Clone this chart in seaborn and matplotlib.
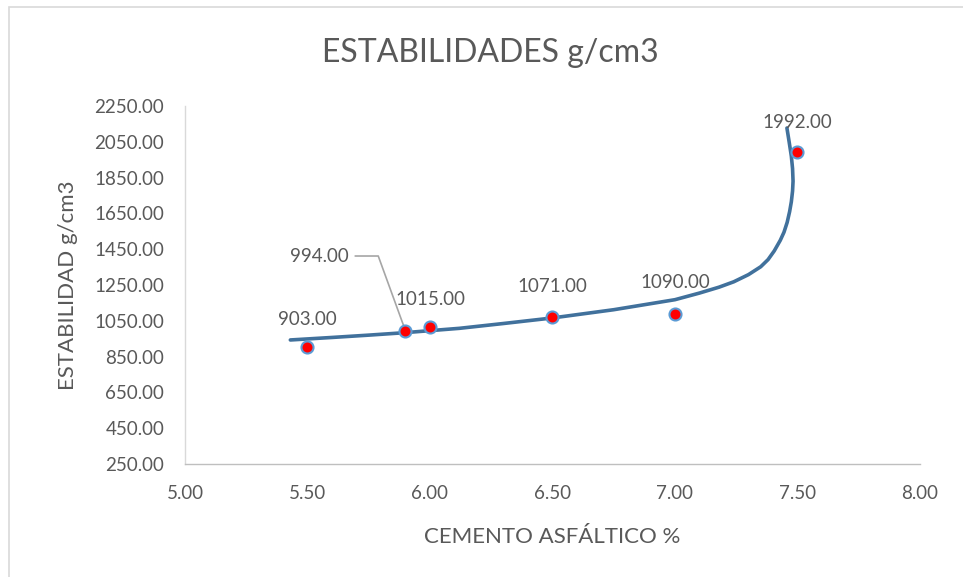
import numpy as np
import pandas as pd
import matplotlib
matplotlib.use("Agg")
import matplotlib.pyplot as plt
import seaborn as sns
from matplotlib.patches import Rectangle

# Measured points
cemento = [5.50, 5.90, 6.00, 6.50, 7.00, 7.50]
estabilidad = [903.00, 994.00, 1015.00, 1071.00, 1090.00, 1992.00]

# Trend curve
curva_x = [5.43, 5.60, 5.75, 5.89, 6.00, 6.12, 6.30, 6.50, 6.75, 7.00, 7.10,
           7.18, 7.24, 7.30, 7.35, 7.38, 7.405, 7.43, 7.445, 7.458, 7.468, 7.475,
           7.48, 7.482, 7.48, 7.475, 7.466, 7.457]
curva_y = [943, 957, 970, 983, 995, 1008, 1035, 1066, 1112, 1168, 1205,
           1238, 1268, 1308, 1352, 1392, 1440, 1500, 1545, 1600, 1660, 1715,
           1775, 1830, 1900, 1970, 2050, 2127]

sns.set_theme(style="white")
plt.rcParams['font.family'] = ['Lato', 'DejaVu Sans']
gris = '#595959'

fig = plt.figure(figsize=(9.63, 5.77), dpi=100)
ax = fig.add_axes([0.1921, 0.1958, 0.7632, 0.6205])

# chart area border
fig.patches.append(Rectangle((0.009, -0.1), 1.2, 1.1 - 7 / 577, transform=fig.transFigure,
                             fill=False, edgecolor='#D9D9D9', linewidth=1.2))

curva = pd.DataFrame({'x': curva_x, 'y': curva_y})
sns.lineplot(data=curva, x='x', y='y', sort=False, estimator=None, ax=ax,
             color='#41719C', linewidth=2.6)

puntos = pd.DataFrame({'x': cemento, 'y': estabilidad})
sns.scatterplot(data=puntos, x='x', y='y', ax=ax, color='#FF0000', s=75,
                edgecolor='#5B9BD5', linewidth=1.5, zorder=5)

# data labels
offsets = {0: (0, 14), 2: (0, 14), 3: (0, 16), 4: (0, 16), 5: (0, 15)}
for i, (xv, yv) in enumerate(zip(cemento, estabilidad)):
    if i == 1:
        continue
    dx, dy = offsets[i]
    ax.annotate(f"{yv:.2f}", (xv, yv), xytext=(dx, dy), textcoords='offset points',
                ha='center', va='bottom', fontsize=13.5, color=gris)

ax.annotate(f"{estabilidad[1]:.2f}", (cemento[1], estabilidad[1]),
            xytext=(5.67, 1412), textcoords='data', ha='right', va='center',
            fontsize=13.5, color=gris,
            arrowprops=dict(arrowstyle='-', color='#A6A6A6', lw=1.2,
                            connectionstyle='angle,angleA=0,angleB=-70,rad=0',
                            shrinkA=2, shrinkB=3))

ax.set_xlim(5.0, 8.0)
ax.set_ylim(250, 2250)
ax.set_xticks(np.arange(5.0, 8.01, 0.5))
ax.set_yticks(np.arange(250, 2251, 200))
ax.set_xticklabels([f"{v:.2f}" for v in np.arange(5.0, 8.01, 0.5)])
ax.set_yticklabels([f"{v:.2f}" for v in np.arange(250, 2251, 200)])
ax.tick_params(axis='both', labelsize=13.5, labelcolor=gris, length=0)
ax.tick_params(axis='y', pad=15)
ax.tick_params(axis='x', pad=15)

for s in ['top', 'right']:
    ax.spines[s].set_visible(False)
ax.spines['left'].set_color('#D9D9D9')
ax.spines['bottom'].set_color('#BFBFBF')
ax.spines['left'].set_linewidth(1.0)
ax.spines['bottom'].set_linewidth(1.0)

ax.set_xlabel("CEMENTO ASFÁLTICO %", fontsize=16, color=gris, labelpad=18)
ax.set_ylabel("ESTABILIDAD g/cm3", fontsize=16, color=gris, labelpad=12)
fig.text(0.509, 0.908, "ESTABILIDADES g/cm3", ha='center', va='center',
         fontsize=23, color=gris)

fig.savefig("out.png", dpi=100)
